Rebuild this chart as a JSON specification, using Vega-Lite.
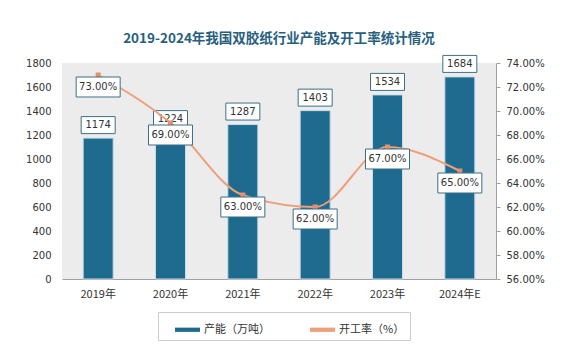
{
  "$schema": "https://vega.github.io/schema/vega-lite/v6.json",
  "width": 434,
  "height": 216,
  "padding": {"left": 25, "top": 31, "right": 10, "bottom": 10},
  "background": "white",
  "title": {"text": "2019-2024年我国双胶纸行业产能及开工率统计情况", "font": "Noto Sans CJK SC", "fontSize": 13.5, "fontWeight": "bold", "color": "#285f7e", "offset": 8, "anchor": "middle"},
  "config": {
    "view": {"stroke": null, "fill": "#ececec"},
    "axis": {"grid": false, "labelFont": "DejaVu Sans", "labelFontSize": 10, "labelColor": "#333333", "domainColor": "#a0a0a0", "tickColor": "#a0a0a0", "title": null}
  },
  "data": {"values": [
    {"year": "2019年", "capacity": 1174, "rate": 0.73},
    {"year": "2020年", "capacity": 1224, "rate": 0.69},
    {"year": "2021年", "capacity": 1287, "rate": 0.63},
    {"year": "2022年", "capacity": 1403, "rate": 0.62},
    {"year": "2023年", "capacity": 1534, "rate": 0.67},
    {"year": "2024年E", "capacity": 1684, "rate": 0.65}
  ]},
  "encoding": {
    "x": {"field": "year", "type": "nominal", "sort": null,
      "scale": {"paddingInner": 0.585, "paddingOuter": 0.2925},
      "axis": {"labelAngle": 0, "ticks": false, "labelFont": "Noto Sans CJK SC", "labelFontSize": 11, "labelPadding": 9, "title": null}}
  },
  "layer": [
    {"encoding": {
       "y": {"field": "capacity", "type": "quantitative", "scale": {"domain": [0, 1800]},
         "axis": {"values": [0, 200, 400, 600, 800, 1000, 1200, 1400, 1600, 1800], "format": "d", "labelOverlap": false, "domain": false, "ticks": false, "labelPadding": 11, "title": null}}
     },
     "layer": [
      {"mark": {"type": "bar", "color": "#1f6b8f", "stroke": "#c8dce8", "strokeWidth": 1},
       "encoding": {
         "color": {"datum": "产能（万吨）", "type": "nominal",
           "scale": {"domain": ["产能（万吨）", "开工率（%）"], "range": ["#1f6b8f", "#ee9f7c"]},
           "legend": {"orient": "none", "legendX": 96, "legendY": 249, "direction": "horizontal", "title": null, "labelFont": "Noto Sans CJK SC", "labelFontSize": 11, "labelColor": "#333333", "symbolType": "M-1,-0.17L1,-0.17L1,0.17L-1,0.17Z", "symbolSize": 625, "symbolStrokeWidth": 0, "strokeColor": "#cccccc", "padding": 5, "symbolOffset": 12, "columnPadding": 28, "labelOffset": 4}}
       }},
      {"mark": {"type": "point", "shape": "M-1,-0.5L1,-0.5L1,0.5L-1,0.5Z", "size": 1156, "filled": true, "fill": "white", "stroke": "#3d6f86", "strokeWidth": 1, "yOffset": -13, "opacity": 1}},
      {"mark": {"type": "text", "dy": -13, "font": "DejaVu Sans", "fontSize": 10, "color": "#333333"},
       "encoding": {"text": {"field": "capacity", "type": "quantitative", "format": "d"}}}
    ]},
    {"encoding": {
       "y": {"field": "rate", "type": "quantitative", "scale": {"domain": [0.56, 0.74]},
         "axis": {"orient": "right", "values": [0.56, 0.58, 0.60, 0.62, 0.64, 0.66, 0.68, 0.70, 0.72, 0.74], "format": ".2%", "labelOverlap": false, "domain": true, "ticks": true, "tickSize": 4, "labelPadding": 6, "title": null}}
     },
     "layer": [
      {"mark": {"type": "line", "interpolate": "monotone", "strokeWidth": 2},
       "encoding": {"color": {"datum": "开工率（%）", "type": "nominal"}}},
      {"mark": {"type": "point", "shape": "square", "size": 25, "filled": true, "color": "#e8906a", "opacity": 1}},
      {"mark": {"type": "point", "shape": "M-1,-0.4545L1,-0.4545L1,0.4545L-1,0.4545Z", "size": 1936, "filled": true, "fill": "white", "stroke": "#3d6f86", "strokeWidth": 1, "yOffset": 12, "opacity": 1}},
      {"mark": {"type": "text", "dy": 12, "font": "DejaVu Sans", "fontSize": 10, "color": "#333333"},
       "encoding": {"text": {"field": "rate", "type": "quantitative", "format": ".2%"}}}
    ]}
  ],
  "resolve": {"scale": {"y": "independent"}}
}
